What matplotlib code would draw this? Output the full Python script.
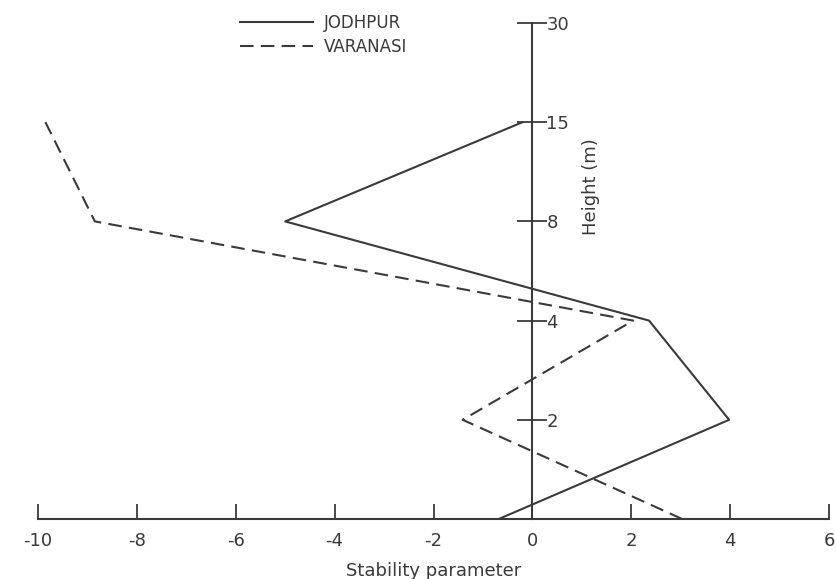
import matplotlib.pyplot as plt

plt.rcParams["axes.unicode_minus"] = False

# height levels (m) drawn at equal spacing on the vertical axis
heights = [0, 2, 4, 8, 15, 30]
tick_labels = ["", "2", "4", "8", "15", "30"]

# stability parameter, bottom to top
jodhpur_h = [0, 2, 4, 8, 15]
jodhpur_s = [-0.68, 3.98, 2.36, -5.0, -0.2]

varanasi_h = [0, 2, 4, 8, 15]
varanasi_s = [3.03, -1.41, 2.04, -8.85, -9.85]

pos = {h: i for i, h in enumerate(heights)}
ink = "#3a3a3a"

fig = plt.figure(figsize=(8.36, 5.79), dpi=100)
ax = fig.add_axes([38 / 836, 1 - 519 / 579, (829 - 38) / 836, (519 - 23) / 579])

ax.plot(jodhpur_s, [pos[h] for h in jodhpur_h], color=ink, lw=1.5, label="JODHPUR")
ax.plot(varanasi_s, [pos[h] for h in varanasi_h], color=ink, lw=1.5,
        dashes=(6.5, 3.5), label="VARANASI")

ax.set_xlim(-10, 6)
ax.set_ylim(0, 5)

# spines: bottom axis line and a vertical axis through x = 0
ax.spines["top"].set_visible(False)
ax.spines["left"].set_visible(False)
ax.spines["right"].set_position(("data", 0))
for s in ("bottom", "right"):
    ax.spines[s].set_color(ink)
    ax.spines[s].set_linewidth(1.5)

ax.set_xticks(range(-10, 7, 2))
ax.tick_params(axis="x", direction="in", length=11, width=1.3, colors=ink,
               labelsize=13, pad=9)

ax.yaxis.tick_right()
ax.set_yticks(range(1, 6))
ax.set_yticklabels(tick_labels[1:])
ax.tick_params(axis="y", direction="inout", length=22, width=1.3, colors=ink,
               labelsize=13, pad=-1)

ax.set_xlabel("Stability parameter", fontsize=13, color=ink, labelpad=9)
ax.text(1.18, 3.35, "Height (m)", rotation=90, fontsize=13, color=ink,
        ha="center", va="center")

leg = ax.legend(loc="upper left", bbox_to_anchor=(0.245, 1.035), frameon=False,
                fontsize=12, handlelength=4.4, handletextpad=0.6,
                labelspacing=0.35, borderpad=0)
for t in leg.get_texts():
    t.set_color(ink)

fig.savefig("out.png", dpi=100)
